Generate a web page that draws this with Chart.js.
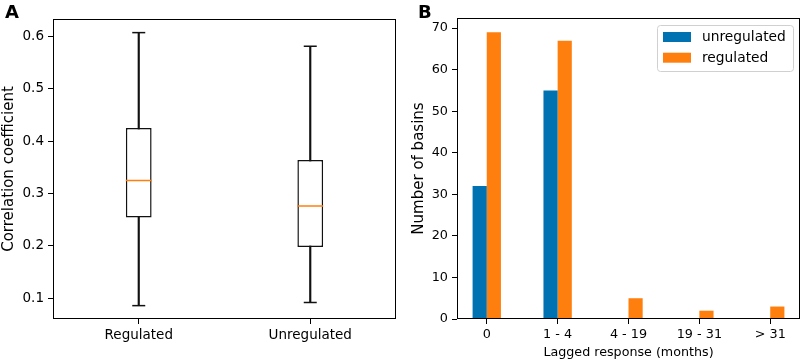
<!DOCTYPE html>
<html>
<head>
<meta charset="utf-8">
<script src="https://cdn.jsdelivr.net/npm/chart.js@4"></script>
<style>
  html, body { margin: 0; padding: 0; background: #fff; }
  #wrap { position: relative; width: 803px; height: 361px; overflow: hidden; }
  .panel { position: absolute; top: 0; height: 361px; }
  #pa { left: 0; width: 400px; }
  #pb { left: 400px; width: 403px; }
  .tag { position: absolute; top: 3px; font: bold 18px/1 'DejaVu Sans'; color: #000; }
</style>
</head>
<body>
<div id="wrap">
  <div class="panel" id="pa"><canvas id="boxChart"></canvas></div>
  <div class="panel" id="pb"><canvas id="barChart"></canvas></div>
  <div class="tag" style="left:5px">A</div>
  <div class="tag" style="left:418px">B</div>
</div>
<script>
// ---- panel A : correlation boxplots (summary stats)
const groups = ['Regulated', 'Unregulated'];
const whiskerLow = [0.086, 0.092];
const q1 = [0.254, 0.198];
const median = [0.325, 0.276];
const q3 = [0.425, 0.364];
const whiskerHigh = [0.607, 0.581];
const corrTicks = [0.1, 0.2, 0.3, 0.4, 0.5, 0.6];

// ---- panel B : lagged response counts
const lagClasses = ['0', '1 - 4', '4 - 19', '19 - 31', '> 31'];
const unregulated = [32, 55, 0, 0, 0];
const regulated = [69, 67, 5, 2, 3];
const basinTicks = [0, 10, 20, 30, 40, 50, 60, 70];

const BLUE = '#0072b2';
const ORANGE = '#ff7f0e';

Chart.defaults.font.family = "'DejaVu Sans', sans-serif";
Chart.defaults.color = '#000';

// black frame around the plot area (matplotlib spines)
const framePlugin = {
  id: 'frame',
  afterDraw(chart) {
    const a = chart.chartArea, ctx = chart.ctx;
    ctx.save();
    ctx.strokeStyle = '#000';
    ctx.lineWidth = 1;
    ctx.strokeRect(Math.round(a.left) + 0.5, Math.round(a.top) + 0.5,
      Math.round(a.right - a.left) - 1, Math.round(a.bottom - a.top) - 1);
    ctx.restore();
  }
};

// legend box in the upper right corner of panel B
const innerLegend = {
  id: 'innerLegend',
  afterDraw(chart) {
    const a = chart.chartArea, ctx = chart.ctx;
    const w = 136, h = 46;
    const x = a.right - 7 - w, y = a.top + 7;
    ctx.save();
    ctx.fillStyle = 'rgba(255,255,255,0.8)';
    ctx.strokeStyle = '#d0d0d0';
    ctx.lineWidth = 1;
    ctx.beginPath();
    ctx.roundRect(x + 0.5, y + 0.5, w, h, 3);
    ctx.fill();
    ctx.stroke();
    ctx.font = "13.8px 'DejaVu Sans'";
    ctx.textBaseline = 'middle';
    chart.data.datasets.forEach((ds, i) => {
      const ry = y + 7 + i * 20.7;
      ctx.fillStyle = ds.backgroundColor;
      ctx.fillRect(x + 6, ry, 28, 10);
      ctx.fillStyle = '#000';
      ctx.fillText(ds.label, x + 45, ry + 5.5);
    });
    ctx.restore();
  }
};

const tickGrid = { drawOnChartArea: false, drawTicks: true, tickLength: 5, color: '#000', lineWidth: 1, offset: false };

// ---------------------------------------------------------------- panel A
new Chart(document.getElementById('boxChart'), {
  type: 'bar',
  data: {
    labels: groups,
    datasets: [
      {
        label: 'whisker',
        data: groups.map((g, i) => [whiskerLow[i], whiskerHigh[i]]),
        backgroundColor: '#111',
        barThickness: 1.5,
        grouped: false,
        order: 4
      },
      {
        label: 'box',
        data: groups.map((g, i) => [q1[i], q3[i]]),
        backgroundColor: '#fff',
        borderColor: '#111',
        borderWidth: 1.5,
        borderSkipped: false,
        barPercentage: 0.15,
        categoryPercentage: 1,
        grouped: false,
        order: 3
      },
      {
        type: 'line', label: 'low cap', data: whiskerLow, showLine: false,
        pointStyle: 'line', pointRadius: 6.5, pointBorderColor: '#111', pointBorderWidth: 1.5, order: 2
      },
      {
        type: 'line', label: 'high cap', data: whiskerHigh, showLine: false,
        pointStyle: 'line', pointRadius: 6.5, pointBorderColor: '#111', pointBorderWidth: 1.5, order: 2
      },
      {
        type: 'line', label: 'median', data: median, showLine: false,
        pointStyle: 'line', pointRadius: 13, pointBorderColor: ORANGE, pointBorderWidth: 1.5, order: 1
      }
    ]
  },
  options: {
    responsive: true,
    maintainAspectRatio: false,
    animation: false,
    devicePixelRatio: 1,
    layout: { autoPadding: false, padding: { top: 19, right: 4, left: 0, bottom: 0 } },
    plugins: { legend: { display: false }, tooltip: { enabled: false } },
    scales: {
      x: {
        type: 'category',
        offset: true,
        grid: tickGrid,
        border: { display: false },
        ticks: { font: { size: 13.5 }, padding: 3 },
        afterFit: (s) => { s.height = 42; }
      },
      y: {
        min: 0.0605,
        max: 0.633,
        grid: tickGrid,
        border: { display: false },
        afterBuildTicks: (s) => { s.ticks = corrTicks.map(v => ({ value: v })); },
        ticks: { font: { size: 13.5 }, padding: 4, callback: (v) => v.toFixed(1) },
        title: { display: true, text: 'Correlation coefficient', font: { size: 15 }, padding: { top: 0, bottom: 0 } },
        afterFit: (s) => { s.width = 53; }
      }
    }
  },
  plugins: [framePlugin]
});

// ---------------------------------------------------------------- panel B
new Chart(document.getElementById('barChart'), {
  type: 'bar',
  data: {
    datasets: [
      {
        label: 'unregulated',
        data: unregulated.map((v, i) => ({ x: i, y: v })),
        backgroundColor: BLUE,
        categoryPercentage: 0.4,
        barPercentage: 1
      },
      {
        label: 'regulated',
        data: regulated.map((v, i) => ({ x: i, y: v })),
        backgroundColor: ORANGE,
        categoryPercentage: 0.4,
        barPercentage: 1
      }
    ]
  },
  options: {
    responsive: true,
    maintainAspectRatio: false,
    animation: false,
    devicePixelRatio: 1,
    layout: { autoPadding: false, padding: { top: 18, right: 3, left: 0, bottom: 0 } },
    plugins: { legend: { display: false }, tooltip: { enabled: false } },
    scales: {
      x: {
        type: 'linear',
        offset: false,
        min: -0.42,
        max: 4.42,
        grid: tickGrid,
        border: { display: false },
        afterBuildTicks: (s) => { s.ticks = lagClasses.map((c, i) => ({ value: i })); },
        ticks: { font: { size: 12.8 }, padding: 3, callback: (v) => lagClasses[Math.round(v)] },
        title: { display: true, text: 'Lagged response (months)', font: { size: 12.7 }, padding: { top: 0, bottom: 1 } },
        afterFit: (s) => { s.height = 42; }
      },
      y: {
        min: 0,
        max: 72.45,
        grid: tickGrid,
        border: { display: false },
        afterBuildTicks: (s) => { s.ticks = basinTicks.map(v => ({ value: v })); },
        ticks: { font: { size: 12.8 }, padding: 4 },
        title: { display: true, text: 'Number of basins', font: { size: 15 }, padding: { top: 10, bottom: 0 } },
        afterFit: (s) => { s.width = 57; }
      }
    }
  },
  plugins: [framePlugin, innerLegend]
});
</script>
</body>
</html>
